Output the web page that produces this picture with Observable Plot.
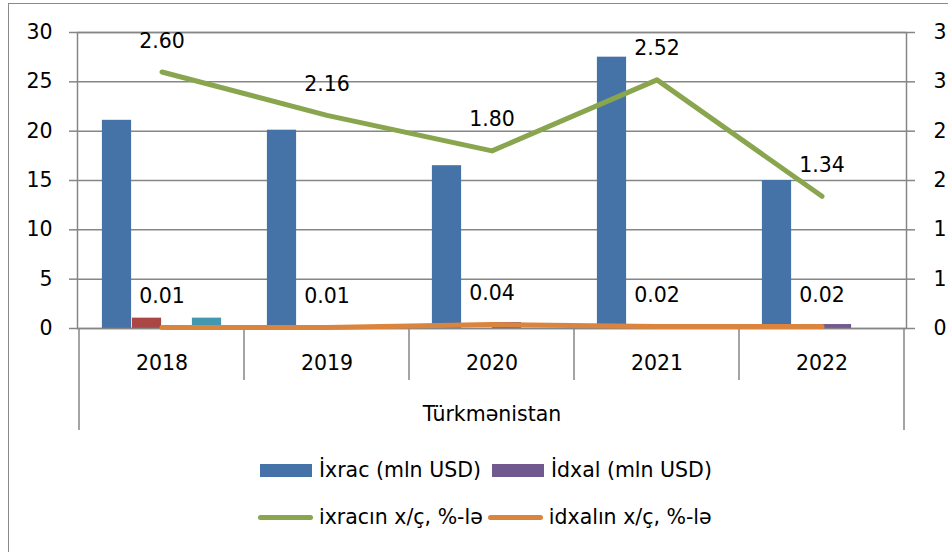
<!DOCTYPE html>
<html>
<head>
<meta charset="utf-8">
<script src="https://cdn.jsdelivr.net/npm/d3@7"></script>
<script src="https://cdn.jsdelivr.net/npm/@observablehq/plot@0.6"></script>
<style>
  html, body { margin: 0; padding: 0; background: #fff; overflow: hidden; }
  body { width: 948px; height: 552px; position: relative; font-family: "DejaVu Sans", sans-serif; }
  #frame { position: absolute; left: 8px; top: 3px; width: 1000px; height: 700px;
           border-left: 1.5px solid #8a8a8a; border-top: 1.5px solid #8a8a8a; }
  #chart { position: absolute; left: 0; top: 0; }
  .lg-row { position: absolute; display: flex; align-items: center; font-size: 20.5px; color: #000; white-space: nowrap; }
  .lg-item { display: flex; align-items: center; }
  .sw-bar { width: 52px; height: 13px; margin-right: 7px; }
  .sw-line { width: 55px; height: 5px; border-radius: 3px; margin-right: 6px; }
</style>
</head>
<body>
<div id="frame"></div>
<div id="chart"></div>
<div class="lg-row" id="lg1" style="left:260px; top:458px;"></div>
<div class="lg-row" id="lg2" style="left:258px; top:505px;"></div>
<script>
// ---- data ----
const years = ["2018", "2019", "2020", "2021", "2022"];
const groupLabel = "Türkmənistan";
const ixrac = [21.1, 20.1, 16.5, 27.5, 15.0];      // İxrac (mln USD)
const seriya2 = [1.05, 0, 0, 0, 0];                // unlabeled red series
const idxal = [0, 0, 0.6, 0, 0.4];                 // İdxal (mln USD)
const seriya4 = [1.05, 0, 0, 0, 0];                // unlabeled teal series
const ixracGrowth = [2.60, 2.16, 1.80, 2.52, 1.34]; // ixracın x/ç, %-lə
const idxalGrowth = [0.01, 0.01, 0.04, 0.02, 0.02]; // idxalın x/ç, %-lə
const leftTicks = [0, 5, 10, 15, 20, 25, 30];
const rightTicks = [0, 0.5, 1, 1.5, 2, 2.5, 3];
const rightTickLabels = ["0", "1", "1", "2", "2", "3", "3"];
const barNames = ["İxrac (mln USD)", "Seriya 2", "İdxal (mln USD)", "Seriya 4"];
const barColors = ["#4572A7", "#AA4643", "#71588F", "#4198AF"];
const lineNames = ["ixracın x/ç, %-lə", "idxalın x/ç, %-lə"];
const lineColors = ["#89A54E", "#DB843D"];

// ---- layout ----
const W = 948, H = 440, mL = 77, mR = 42, mT = 32, mB = 112;
const leftMax = 30, rightMax = 3, k = leftMax / rightMax;
const bw = (W - mL - mR) / years.length;
const barW = 30;
const grid = "#868686";
const FONT = "DejaVu Sans, sans-serif";

const barSeries = [ixrac, seriya2, idxal, seriya4];
const barRows = [];
barSeries.forEach((arr, s) => arr.forEach((v, i) => barRows.push({year: years[i], value: v, s})));
const lineRows = [ixracGrowth, idxalGrowth].map(arr => arr.map((v, i) => ({year: years[i], value: v})));

function dividerMark(...args) {
  const scales = args.find(a => a && typeof a === "object" && typeof a.x === "function");
  const dims = args.find(a => a && typeof a === "object" && a.marginBottom !== undefined);
  const x = scales.x;
  const band = typeof x.bandwidth === "function" ? x.bandwidth() : (x.bandwidth || bw);
  const y0 = dims.height - dims.marginBottom;
  const g = d3.create("svg:g").attr("stroke", grid).attr("stroke-width", 1.5);
  const edges = years.map(y => x(y)).concat([x(years[years.length - 1]) + band]);
  edges.forEach((e, i) => {
    const outer = i === 0 || i === edges.length - 1;
    g.append("line").attr("x1", e).attr("x2", e).attr("y1", y0).attr("y2", y0 + (outer ? 102 : 52));
  });
  return g.node();
}

const marks = [
  Plot.gridY(leftTicks, {stroke: grid, strokeOpacity: 1, strokeWidth: 1.5}),
  ...barSeries.map((arr, s) => Plot.barY(barRows.filter(d => d.s === s && d.value > 0), {
    x: "year", y: "value", fill: barColors[s],
    insetLeft: (bw - barSeries.length * barW) / 2 + s * barW,
    insetRight: bw - (bw - barSeries.length * barW) / 2 - (s + 1) * barW
  })),
  Plot.frame({stroke: grid, strokeWidth: 1.5}),
  Plot.axisY({anchor: "left", ticks: leftTicks, tickSize: 8, tickPadding: 17, stroke: grid, strokeWidth: 1.5, label: null}),
  Plot.axisY({anchor: "right", ticks: rightTicks.map(t => t * k),
    tickFormat: d => rightTickLabels[rightTicks.findIndex(t => Math.abs(t * k - d) < 1e-9)],
    tickSize: 8, tickPadding: 19, stroke: grid, strokeWidth: 1.5, textAnchor: "start", label: null}),
  Plot.axisX({tickSize: 0, tickPadding: 27, label: null}),
  dividerMark,
  Plot.text([groupLabel], {frameAnchor: "bottom", dy: 92, fill: "#000"}),
  ...lineRows.map((rows, j) => Plot.line(rows, {
    x: "year", y: d => d.value * k, stroke: lineColors[j], strokeWidth: 5,
    strokeLinecap: "round", strokeLinejoin: "round"
  })),
  ...lineRows.map(rows => Plot.text(rows, {
    x: "year", y: d => d.value * k, text: d => d3.format(".2f")(d.value), dy: -31, fill: "#000"
  }))
];

const chart = Plot.plot({
  width: W, height: H,
  marginLeft: mL, marginRight: mR, marginTop: mT, marginBottom: mB,
  style: {fontFamily: FONT, fontSize: "20.5px", color: "#000", background: "transparent", overflow: "visible"},
  x: {type: "band", domain: years, padding: 0},
  y: {domain: [0, leftMax]},
  marks
});
document.getElementById("chart").appendChild(chart);

// ---- legend ----
function addItem(rowId, color, label, kind) {
  const item = document.createElement("div");
  item.className = "lg-item";
  const sw = document.createElement("div");
  sw.className = kind === "bar" ? "sw-bar" : "sw-line";
  sw.style.background = color;
  const t = document.createElement("span");
  t.textContent = label;
  item.appendChild(sw); item.appendChild(t);
  document.getElementById(rowId).appendChild(item);
  return item;
}
addItem("lg1", barColors[0], barNames[0], "bar").style.marginRight = "11px";
addItem("lg1", barColors[2], barNames[2], "bar");
addItem("lg2", lineColors[0], lineNames[0], "line").style.marginRight = "5px";
addItem("lg2", lineColors[1], lineNames[1], "line");
</script>
</body>
</html>
